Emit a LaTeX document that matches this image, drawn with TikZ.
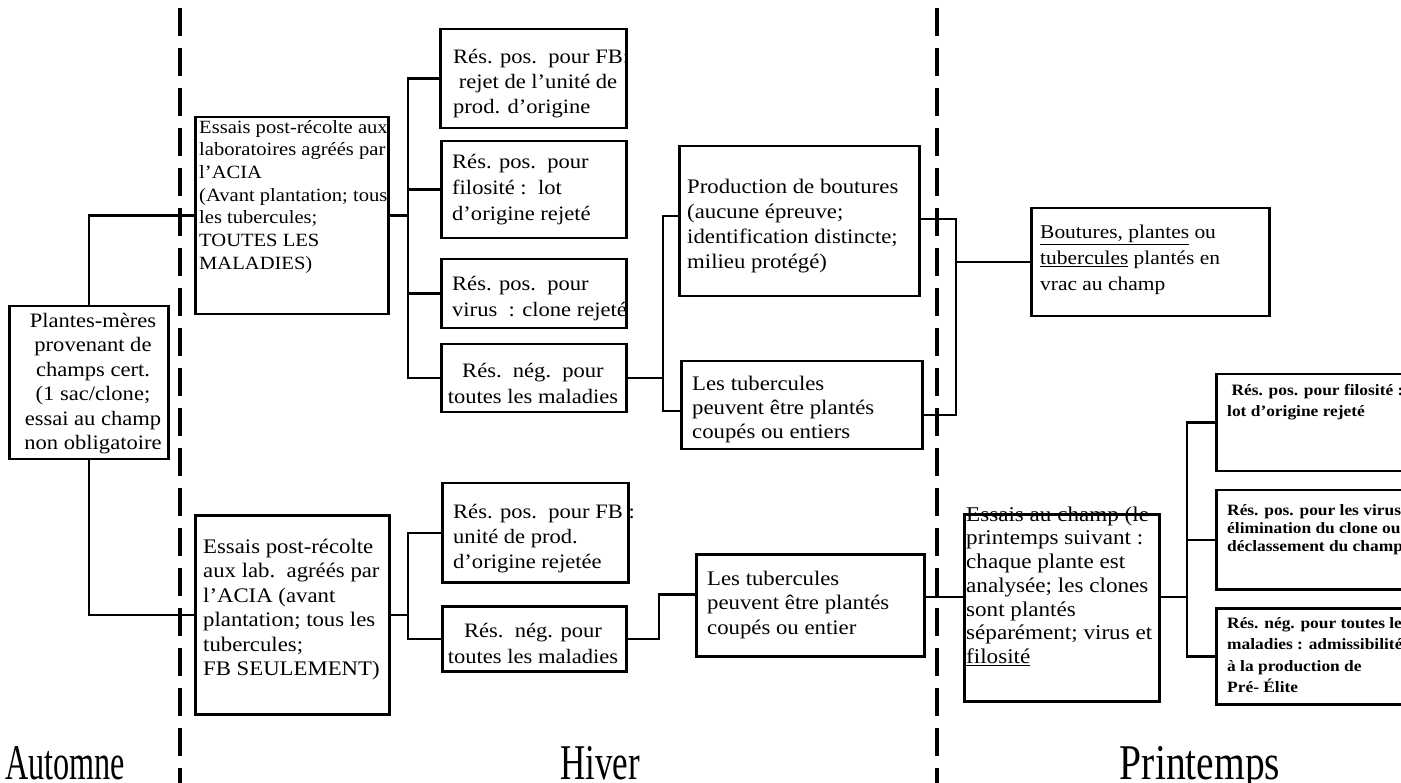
\documentclass[tikz,border=0pt]{standalone}
\usepackage{fontspec}
\setmainfont{Liberation Serif}
\newfontfamily\bxf{Liberation Serif}[FakeStretch=1.1]
\newfontfamily\bxb{Liberation Serif Bold}[FakeStretch=1.1]
\newfontfamily\lblA{Liberation Serif}[FakeStretch=0.645]
\newfontfamily\lblB{Liberation Serif}[FakeStretch=0.70]
\newfontfamily\lblC{Liberation Serif}[FakeStretch=0.79]
\newcommand\fs[2]{\bxf\fontsize{#1}{#2}\selectfont}
\newcommand\fb[2]{\bxb\fontsize{#1}{#2}\selectfont}
% name, x, baseline, strut, style, text
\newcommand\T[6]{\node[tx,#5] (#1) at (#2,{#3-#4}) {\rule{0pt}{#4pt}#6};}
\newcommand\B[5]{\node[bx, minimum width={#4-#2}, minimum height={#5-#3}] (#1) at (#2,#3) {};}
\tikzset{
 bx/.style={draw, line width=2.5pt, rectangle, inner sep=0pt, anchor=north west},
 ln/.style={line width=2.5pt},
 dl/.style={line width=3.5pt, dash pattern=on 28pt off 12pt},
 tx/.style={inner sep=0pt, anchor=north west, align=left},
 lbl/.style={inner sep=0pt, anchor=base},
}
\begin{document}
\begin{tikzpicture}[x=1pt,y=-1pt]
\useasboundingbox (0,0) rectangle (1401,783);
\fill[white] (0,0) rectangle (1401,783);
% dashed season separators
\coordinate (d1t) at (180,8); \coordinate (d1b) at (180,790);
\coordinate (d2t) at (937,8); \coordinate (d2b) at (937,790);
\draw[dl] (d1t) -- (d1b);
\draw[dl] (d2t) -- (d2b);
% boxes
\B{pm}{8}{305}{167}{458}
\B{e1}{194}{116}{387}{313}
\B{a1}{439}{28}{625}{127}
\B{a2}{440}{140}{625}{237}
\B{a3}{440}{258}{625}{327}
\B{a4}{440}{343}{625}{411}
\B{b1}{678}{145}{918}{295}
\B{b2}{680}{360}{921}{448}
\B{c}{1030}{207}{1268}{315}
\B{d}{194}{514}{388}{713}
\B{rp1}{441}{482}{627}{581}
\B{rn1}{441}{605}{625}{670}
\B{f}{695}{553}{923}{655}
\B{g}{963}{513}{1158}{700}
\B{h1}{1215}{373}{1420}{470}
\B{h2}{1215}{489}{1420}{588}
\B{h3}{1215}{607}{1420}{703}
% texts
\T{tpm}{93}{327}{19}{anchor=north,align=center,font={\fs{20.5}{24.5}}}{Plantes-mères\\provenant de\\champs cert.\\(1 sac/clone;\\essai au champ\\non obligatoire}
\T{te1}{199}{133}{18}{font={\fs{18.7}{22.7}}}{Essais post-récolte aux\\laboratoires agréés par\\l’ACIA\\(Avant plantation; tous\\les tubercules;\\TOUTES LES\\MALADIES)}
\T{ta1}{453}{63}{19}{font={\fs{20.5}{25}}}{Rés. pos.\ \ pour FB:\\\ rejet de l’unité de\\prod. d’origine}
\T{ta2}{452}{168}{19}{font={\fs{20.5}{26}}}{Rés. pos.\ \ pour\\filosité :\ \ lot\\d’origine rejeté}
\T{ta3}{452}{290}{19}{font={\fs{20.5}{26}}}{Rés. pos.\ \ pour\\virus\ \ : clone rejeté}
\T{ta4}{533}{377}{19}{anchor=north,align=center,font={\fs{20.5}{26}}}{Rés.\ \ nég.\ \ pour\\toutes les maladies}
\T{tb1}{687}{193}{19}{font={\fs{20.7}{25}}}{Production de boutures\\(aucune épreuve;\\identification distincte;\\milieu protégé)}
\T{tb2}{692}{390}{19}{font={\fs{20.7}{24}}}{Les tubercules\\peuvent être plantés\\coupés ou entiers}
\T{tc}{1040}{238}{18}{font={\fs{19.5}{26}}}{\underline{Boutures, plantes} ou\\\underline{tubercules} plantés en\\vrac au champ}
\T{td}{203}{553}{19}{font={\fs{20.7}{24.5}}}{Essais post-récolte\\aux lab.\ \ agréés par\\l’ACIA (avant\\plantation; tous les\\tubercules;\\FB SEULEMENT)}
\T{trp1}{453}{518}{19}{font={\fs{20.5}{25}}}{Rés. pos.\ \ pour FB :\\unité de prod.\\d’origine rejetée}
\T{trn1}{533}{637}{19}{anchor=north,align=center,font={\fs{20.5}{26}}}{Rés.\ \ nég. pour\\toutes les maladies}
\T{tf}{707}{585}{19}{font={\fs{20.7}{24.5}}}{Les tubercules\\peuvent être plantés\\coupés ou entier}
\T{tg}{966}{521}{19}{font={\fs{21}{23.7}}}{Essais au champ (le\\printemps suivant :\\chaque plante est\\analysée; les clones\\sont plantés\\séparément; virus et\\\underline{filosité}}
\T{th1}{1227}{395}{15}{font={\fb{15.8}{21}}}{\ Rés. pos. pour filosité :\\lot d’origine rejeté}
\T{th2}{1227}{515}{15}{font={\fb{15.8}{18}}}{Rés. pos. pour les virus :\\élimination du clone ou\\déclassement du champ}
\T{th3}{1227}{628}{15}{font={\fb{15.8}{21.5}}}{Rés. nég. pour toutes les\\maladies : admissibilité\\à la production de\\Pré- Élite}
% connectors
\coordinate (k1) at (408,0);
\coordinate (k2) at (663,0);
\coordinate (k3) at (956,0);
\coordinate (k4) at (659,0);
\coordinate (k5) at (1187,0);
\draw[ln] (pm.north) |- (e1.west);
\draw[ln] (pm.south) |- (d.west);
\draw[ln] (e1.east) -- (e1.east -| k1);
\draw[ln] (a1.west) -| (k1 |- a4.west) -- (a4.west);
\draw[ln] (a2.west) -- (a2.west -| k1);
\draw[ln] (a3.west) -- (a3.west -| k1);
\coordinate (b1w) at ([yshift=5pt]b1.west);
\coordinate (b2w) at ([yshift=-6pt]b2.west);
\draw[ln] (a4.east) -- (a4.east -| k2);
\draw[ln] (b1w) -| (b2w -| k2) -- (b2w);
\coordinate (b1e) at ([yshift=2pt]b1.east);
\coordinate (b2e) at ([yshift=-10pt]b2.east);
\draw[ln] (b1e) -| (b2e -| k3) -- (b2e);
\draw[ln] (c.west) -- (c.west -| k3);
\draw[ln] (d.east) -- (d.east -| k1);
\draw[ln] (rp1.west) -| (k1 |- rn1.west) -- (rn1.west);
\coordinate (fc) at ([yshift=11pt]f.west);
\draw[ln] (rn1.east) -| (k4 |- fc) -- (fc);
\coordinate (gc) at ([yshift=11pt]g.west);
\draw[ln] (gc -| f.east) -- (gc);
\draw[ln] (gc -| g.east) -- (gc -| k5);
\draw[ln] (h1.west) -| (k5 |- h3.west) -- (h3.west);
\draw[ln] (h2.west) -- (h2.west -| k5);
% season labels
\node[lbl, anchor=base west, font=\lblA\fontsize{50}{54}\selectfont] (la) at (5,779) {Automne};
\node[lbl, font=\lblB\fontsize{50}{54}\selectfont] (lb) at (600,779) {Hiver};
\node[lbl, font=\lblC\fontsize{50}{54}\selectfont] (lc) at (1200,779) {Printemps};
\end{tikzpicture}
\end{document}
